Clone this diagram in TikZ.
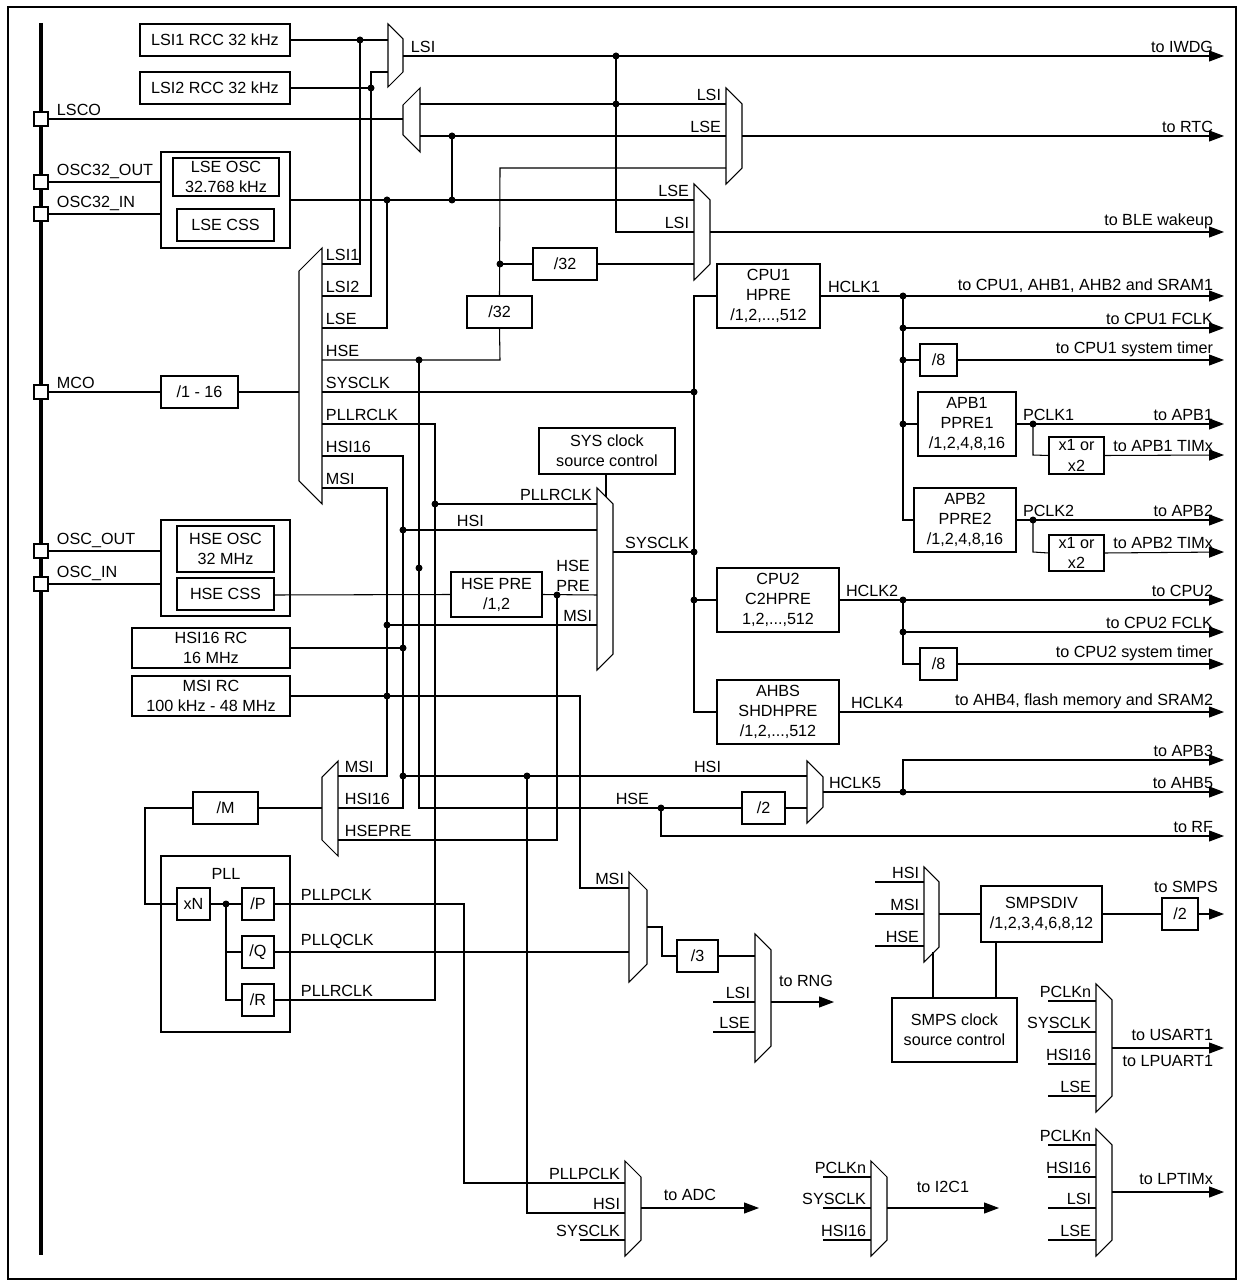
\documentclass[tikz,border=0pt]{standalone}
\usepackage{fontspec}
\setmainfont{Liberation Sans}
\usetikzlibrary{arrows.meta}

\tikzset{
  wire/.style={line width=0.6pt},
  box/.style={draw, line width=0.6pt, align=center, inner sep=0pt, font=\fontsize{9.2}{11.5}\selectfont},
  lbl/.style={inner sep=1.5pt, font=\fontsize{9.2}{11.5}\selectfont},
  feed/.style={wire, -{Triangle[length=3mm,width=2.2mm]}},
}
% box: name, x1, y1, x2, y2, text
\newcommand{\blk}[6]{\node[box, minimum width={(#4-#2)*0.2mm}, minimum height={(#5-#3)*0.2mm}] (#1) at ({(#2+#4)/2},{(#3+#5)/2}) {#6};}
% multiplexer, output right / output left
\newcommand{\muxr}[4]{\draw[wire] (#1,#3) -- (#2,{#3+#2-#1}) -- (#2,{#4-#2+#1}) -- (#1,#4) -- cycle;}
\newcommand{\muxl}[4]{\draw[wire] (#1,{#3+#2-#1}) -- (#2,#3) -- (#2,#4) -- (#1,{#4-#2+#1}) -- cycle;}
\newcommand{\jn}[1]{\fill #1 circle (3.5);}

\begin{document}
\begin{tikzpicture}[x=0.2mm, y=-0.2mm]
\useasboundingbox (0,0) rectangle (1240,1281);
\draw[line width=1pt] (8,7) rectangle (1236,1279);

% pins on the left bus
\draw[line width=1.8pt] (41,23) -- (41,1255);
\draw[wire] (48,119) -- (403,119);
\foreach \y/\t in {119/LSCO, 182/OSC32\_OUT, 214/OSC32\_IN, 392/MCO, 551/OSC\_OUT, 584/OSC\_IN} {
  \draw[wire] (48,\y) -- (161,\y);
  \draw[wire, fill=white] (34,\y-7) rectangle (48,\y+7);
  \node[lbl, anchor=south west] at (54,\y) {\t};
}

% oscillators
\blk{lsia}{140}{24}{290}{56}{LSI1 RCC 32 kHz}
\blk{lsib}{140}{72}{290}{104}{LSI2 RCC 32 kHz}
\blk{lse}{161}{152}{290}{248}{}
\blk{lseosc}{173}{158}{279}{196}{LSE OSC\\32.768 kHz}
\blk{lsecss}{177}{209}{274}{241}{LSE CSS}
\blk{hse}{161}{520}{290}{616}{}
\blk{hseosc}{177}{526}{274}{572}{HSE OSC\\32 MHz}
\blk{hsecss}{177}{578}{274}{610}{HSE CSS}
\blk{hsirc}{132}{628}{290}{668}{HSI16 RC\\16 MHz}
\blk{msirc}{132}{676}{290}{716}{MSI RC\\100 kHz - 48 MHz}
\blk{mcodiv}{161}{376}{238}{408}{/1 - 16}
\blk{diva}{533}{248}{597}{280}{/32}
\blk{divb}{467}{296}{532}{328}{/32}
\blk{sysctl}{539}{428}{675}{474}{SYS clock\\source control}
\blk{hsepre}{451}{572}{542}{617}{HSE PRE\\/1,2}
\blk{mdiv}{193}{792}{258}{824}{/M}
\blk{pll}{161}{856}{290}{1032}{}
\blk{xn}{177}{888}{210}{920}{xN}
\blk{pdiv}{242}{888}{274}{920}{/P}
\blk{qdiv}{242}{936}{274}{968}{/Q}
\blk{rdiv}{242}{984}{274}{1016}{/R}
\node[lbl] at (226,874) {PLL};

% prescalers
\blk{cpua}{717}{264}{820}{328}{CPU1\\HPRE\\/1,2,...,512}
\blk{systa}{920}{344}{957}{376}{/8}
\blk{apba}{918}{392}{1016}{456}{APB1\\PPRE1\\/1,2,4,8,16}
\blk{tima}{1049}{437}{1104}{474}{x1 or\\x2}
\blk{apbb}{914}{488}{1016}{552}{APB2\\PPRE2\\/1,2,4,8,16}
\blk{timb}{1049}{535}{1104}{571}{x1 or\\x2}
\blk{cpub}{717}{568}{839}{632}{CPU2\\C2HPRE\\1,2,...,512}
\blk{systb}{920}{648}{957}{680}{/8}
\blk{ahbs}{717}{680}{839}{744}{AHBS\\SHDHPRE\\/1,2,...,512}
\blk{hsediv}{742}{792}{785}{824}{/2}
\blk{rngdiv}{677}{940}{718}{972}{/3}
\blk{smpsdiv}{981}{886}{1102}{942}{SMPSDIV\\/1,2,3,4,6,8,12}
\blk{smpsout}{1162}{898}{1198}{930}{/2}
\blk{smpsctl}{892}{998}{1017}{1062}{SMPS clock\\source control}

% multiplexers
\muxr{388}{403}{24}{87}
\muxl{403}{420}{88}{152}
\muxr{726}{742}{88}{184}
\muxr{694}{710}{184}{280}
\muxl{299}{322}{248}{504}
\muxr{597}{613}{488}{670}
\muxl{322}{338}{761}{856}
\muxr{807}{823}{761}{823}
\muxr{629}{647}{872}{982}
\muxr{755}{771}{934}{1062}
\muxr{924}{939}{867}{962}
\muxr{1096}{1112}{984}{1112}
\muxr{1096}{1112}{1129}{1256}
\muxr{871}{887}{1161}{1256}
\muxr{625}{641}{1161}{1256}

% LSI / LSE
\draw[wire] (lsia.east |- 0,40) -- (388,40);
\draw[wire] (lsib.east |- 0,88) -- (371,88);
\draw[wire] (388,72) -- (371,72) -- (371,296) -- (322,296);
\draw[wire] (360,40) -- (360,264) -- (322,264);
\draw[feed] (403,56) -- (1224,56);
\draw[wire] (616,56) -- (616,232) -- (694,232);
\draw[wire] (420,104) -- (726,104);
\draw[wire] (420,136) -- (726,136);
\draw[wire] (452,136) -- (452,200);
\draw[wire] (lse.east |- 0,200) -- (694,200);
\draw[wire] (387,200) -- (387,328) -- (322,328);
\draw[feed] (742,136) -- (1224,136);
\draw[feed] (710,232) -- (1224,232);
\draw[wire] (726,168) -- (500,168) -- (divb.north);
\draw[wire] (500,264) -- (diva.west);
\draw[wire] (diva.east) -- (694,264);
\draw[wire] (divb.south) -- (500,360) -- (322,360);
\jn{(360,40)} \jn{(371,88)} \jn{(616,56)} \jn{(616,104)} \jn{(452,136)}
\jn{(387,200)} \jn{(452,200)} \jn{(500,264)} \jn{(419,360)}
\node[lbl, anchor=south west] at (408,56) {LSI};
\node[lbl, anchor=south east] at (724,104) {LSI};
\node[lbl, anchor=south east] at (724,136) {LSE};
\node[lbl, anchor=south east] at (692,200) {LSE};
\node[lbl, anchor=south east] at (692,232) {LSI};
\node[lbl, anchor=south east] at (1216,56) {to IWDG};
\node[lbl, anchor=south east] at (1216,136) {to RTC};
\node[lbl, anchor=south east] at (1216,232) {to BLE wakeup};

% MCO
\draw[wire] (299,392) -- (mcodiv.east);
\draw[wire] (322,392) -- (694,392);
\draw[wire] (322,424) -- (435,424) -- (435,1000) -- (rdiv.east);
\draw[wire] (322,456) -- (403,456) -- (403,808) -- (338,808);
\draw[wire] (322,488) -- (387,488) -- (387,776) -- (338,776);
\draw[wire] (419,360) -- (419,808) -- (hsediv.west);
\foreach \y/\t in {264/LSI1, 296/LSI2, 328/LSE, 360/HSE, 392/SYSCLK, 424/PLLRCLK, 456/HSI16, 488/MSI}
  \node[lbl, anchor=south west] at (323,\y) {\t};

% system clock
\draw[wire] (435,504) -- (597,504);
\draw[wire] (403,530) -- (597,530);
\draw[wire] (hsecss.east |- 0,595) -- (hsepre.west);
\draw[wire] (hsepre.east) -- (597,595);
\draw[wire] (387,625) -- (597,625);
\draw[wire] (sysctl.south -| 606,0) -- (606,497);
\draw[wire] (613,552) -- (694,552);
\draw[wire] (hsirc.east) -- (403,648);
\draw[wire] (msirc.east) -- (580,696) -- (580,888) -- (629,888);
\jn{(435,504)} \jn{(403,530)} \jn{(557,595)} \jn{(387,625)} \jn{(403,648)} \jn{(387,696)} \jn{(419,568)}
\node[lbl, anchor=south east] at (595,504) {PLLRCLK};
\node[lbl, anchor=south west] at (454,530) {HSI};
\node[lbl, align=center, inner sep=0pt] at (573,576) {HSE\\PRE};
\node[lbl, anchor=south east] at (595,625) {MSI};
\node[lbl, anchor=south east] at (692,552) {SYSCLK};

% AHB / APB
\draw[wire] (cpua.west) -- (694,296) -- (694,712) -- (ahbs.west);
\draw[wire] (694,600) -- (cpub.west);
\jn{(694,392)} \jn{(694,552)} \jn{(694,600)}
\draw[feed] (cpua.east) -- (1224,296);
\draw[wire] (903,296) -- (903,520) -- (apbb.west);
\draw[feed] (903,328) -- (1224,328);
\draw[wire] (903,360) -- (systa.west);
\draw[feed] (systa.east) -- (1224,360);
\draw[wire] (903,424) -- (apba.west);
\draw[feed] (apba.east) -- (1224,424);
\draw[wire] (1033,424) -- (1033,455) -- (tima.west);
\draw[feed] (tima.east) -- (1224,455);
\draw[feed] (apbb.east) -- (1224,520);
\draw[wire] (1033,520) -- (1033,552) -- (timb.west);
\draw[feed] (timb.east) -- (1224,552);
\draw[feed] (cpub.east) -- (1224,600);
\draw[wire] (903,600) -- (903,664) -- (systb.west);
\draw[feed] (903,632) -- (1224,632);
\draw[feed] (systb.east) -- (1224,664);
\draw[feed] (ahbs.east) -- (1224,712);
\jn{(903,296)} \jn{(903,328)} \jn{(903,360)} \jn{(903,424)} \jn{(1033,424)} \jn{(1033,520)}
\jn{(903,600)} \jn{(903,632)}
\node[lbl, anchor=south west] at (825,296) {HCLK1};
\node[lbl, anchor=south west] at (1020,424) {PCLK1};
\node[lbl, anchor=south west] at (1020,520) {PCLK2};
\node[lbl, anchor=south west] at (843,600) {HCLK2};
\node[lbl, anchor=south west] at (848,712) {HCLK4};
\foreach \y/\t in {296/{to CPU1, AHB1, AHB2 and SRAM1}, 328/to CPU1 FCLK, 360/to CPU1 system timer,
  424/to APB1, 455/to APB1 TIMx, 520/to APB2, 552/to APB2 TIMx, 600/to CPU2, 632/to CPU2 FCLK,
  664/to CPU2 system timer, 712/{to AHB4, flash memory and SRAM2}, 760/to APB3, 792/to AHB5, 836/to RF}
  \node[lbl, anchor=south east] at (1216,\y) {\t};

% HCLK5 and RF
\draw[wire] (403,776) -- (807,776);
\draw[wire] (hsediv.east) -- (807,808);
\draw[feed] (823,792) -- (1224,792);
\draw[feed] (903,792) -- (903,760) -- (1224,760);
\draw[feed] (661,808) -- (661,836) -- (1224,836);
\jn{(403,776)} \jn{(527,776)} \jn{(661,808)} \jn{(903,792)}
\node[lbl, anchor=south east] at (724,776) {HSI};
\node[lbl, anchor=south east] at (652,808) {HSE};
\node[lbl, anchor=south west] at (826,792) {HCLK5};

% PLL
\draw[wire] (322,808) -- (mdiv.east);
\draw[wire] (mdiv.west) -- (145,808) -- (145,904) -- (xn.west);
\draw[wire] (557,595) -- (557,840) -- (338,840);
\draw[wire] (xn.east) -- (pdiv.west);
\draw[wire] (226,904) -- (226,1000) -- (rdiv.west);
\draw[wire] (226,952) -- (qdiv.west);
\jn{(226,904)}
\draw[wire] (pdiv.east) -- (464,904) -- (464,1183) -- (625,1183);
\draw[wire] (qdiv.east) -- (629,952);
\node[lbl, anchor=south west] at (342,776) {MSI};
\node[lbl, anchor=south west] at (342,808) {HSI16};
\node[lbl, anchor=south west] at (342,840) {HSEPRE};
\node[lbl, anchor=south west] at (298,904) {PLLPCLK};
\node[lbl, anchor=south west] at (298,952) {PLLQCLK};
\node[lbl, anchor=south west] at (298,1000) {PLLRCLK};

% RNG
\node[lbl, anchor=south east] at (627,888) {MSI};
\draw[wire] (647,927) -- (662,927) -- (662,956) -- (rngdiv.west);
\draw[wire] (rngdiv.east) -- (755,956);
\draw[wire] (713,1002) -- (755,1002);
\draw[wire] (713,1032) -- (755,1032);
\node[lbl, anchor=south east] at (753,1002) {LSI};
\node[lbl, anchor=south east] at (753,1032) {LSE};
\draw[feed] (771,1002) -- (834,1002);
\node[lbl, anchor=south] at (806,990) {to RNG};

% SMPS
\foreach \y/\t in {882/HSI, 914/MSI, 946/HSE} {
  \draw[wire] (875,\y) -- (924,\y);
  \node[lbl, anchor=south east] at (922,\y) {\t};
}
\draw[wire] (939,914) -- (smpsdiv.west);
\draw[wire] (smpsdiv.east) -- (smpsout.west);
\draw[feed] (smpsout.east) -- (1224,914);
\node[lbl, anchor=south] at (1186,896) {to SMPS};
\draw[wire] (933,952) -- (smpsctl.north -| 933,0);
\draw[wire] (smpsdiv.south -| 996,0) -- (smpsctl.north -| 996,0);

% peripheral kernel clocks
\foreach \y/\t in {1001/PCLKn, 1032/SYSCLK, 1064/HSI16, 1096/LSE, 1145/PCLKn, 1177/HSI16, 1208/LSI, 1240/LSE} {
  \draw[wire] (1048,\y) -- (1096,\y);
  \node[lbl, anchor=south east] at (1094,\y) {\t};
}
\draw[feed] (1112,1048) -- (1224,1048);
\node[lbl, anchor=south east] at (1216,1044) {to USART1};
\node[lbl, anchor=north east] at (1216,1052) {to LPUART1};
\draw[feed] (1112,1192) -- (1224,1192);
\node[lbl, anchor=south east] at (1216,1188) {to LPTIMx};
\foreach \y/\t in {1177/PCLKn, 1208/SYSCLK, 1240/HSI16} {
  \draw[wire] (823,\y) -- (871,\y);
  \node[lbl, anchor=south east] at (869,\y) {\t};
}
\draw[feed] (887,1208) -- (999,1208);
\node[lbl, anchor=south] at (943,1196) {to I2C1};
\draw[wire] (527,776) -- (527,1213) -- (625,1213);
\draw[wire] (580,1240) -- (625,1240);
\node[lbl, anchor=south east] at (623,1183) {PLLPCLK};
\node[lbl, anchor=south east] at (623,1213) {HSI};
\node[lbl, anchor=south east] at (623,1240) {SYSCLK};
\draw[feed] (641,1208) -- (759,1208);
\node[lbl, anchor=south] at (690,1204) {to ADC};
\end{tikzpicture}
\end{document}
